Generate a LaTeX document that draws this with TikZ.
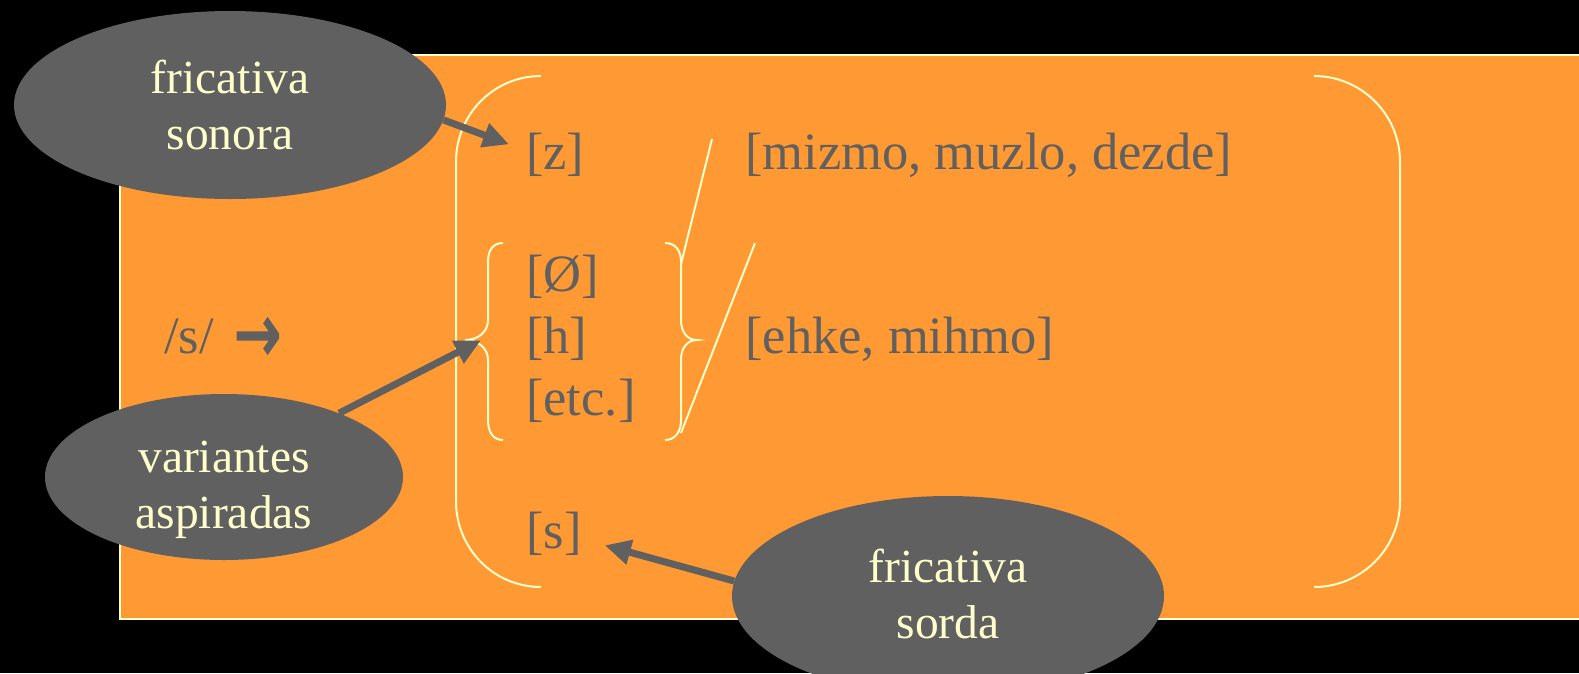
\documentclass[tikz,border=0pt]{standalone}
\usepackage{fontspec}
\setmainfont{Liberation Serif}
\newfontfamily\arrowfont[FakeBold=3]{DejaVu Sans}
\usetikzlibrary{shapes.geometric,arrows.meta,calc}
\definecolor{org}{HTML}{FF9933}
\definecolor{gry}{HTML}{606060}
\definecolor{ylw}{HTML}{FFFFCC}
\begin{document}
\begin{tikzpicture}[x=1pt,y=-1pt,
 txt/.style={inner sep=0pt, text=gry, font=\fontsize{52.5}{62.4}\selectfont, anchor=base west},
 bubble/.style={ellipse, fill=gry, draw=none, inner sep=0pt},
 btxt/.style={text=ylw, align=center, font=\fontsize{47.5}{56.4}\selectfont, inner sep=0pt},
 wline/.style={draw=ylw, line width=2pt},
 pointer/.style={draw=gry, line width=7pt, -{Triangle[length=26pt,width=24pt]}}
]
\clip (0,0) rectangle (1579,673);
\fill[black] (0,0) rectangle (1579,673);
\draw[fill=org, draw=ylw, line width=2pt] (120,55) rectangle (1600,619);
% big brackets
\draw[wline] (541,76) .. controls (494,76) and (456,114) .. (456,162) -- (456,501) .. controls (456,549) and (494,587) .. (541,587);
\draw[wline] (1314,76) .. controls (1361,76) and (1400,114) .. (1400,162) -- (1400,501) .. controls (1400,549) and (1361,587) .. (1314,587);
% small braces
\coordinate (lbt) at (465,340);
\draw[wline] (503,243) .. controls (493,243) and (488,250) .. (488,262) -- (488,320) .. controls (488,332) and (478,340) .. (lbt) .. controls (478,340) and (488,348) .. (488,360) -- (488,420) .. controls (488,432) and (493,440) .. (503,440);
\draw[wline] (665,243) .. controls (675,243) and (681,250) .. (681,262) -- (681,320) .. controls (681,332) and (687,340) .. (697,340) .. controls (687,340) and (681,348) .. (681,360) -- (681,420) .. controls (681,432) and (675,440) .. (665,440);
% slashes
\draw[wline] (712,139) -- (681,264);
\draw[wline] (755,243) -- (681,433);
% texts
\node[txt] (z) at (526,169) {[z]};
\node[txt] (mz) at (745,169) {[mizmo, muzlo, dezde]};
\node[txt] (o) at (526,291) {[Ø]};
\node[txt] (h) at (526,353) {[h]};
\node[txt] (etc) at (526,415) {[etc.]};
\node[txt] (eh) at (745,353) {[ehke, mihmo]};
\node[txt] (s0) at (164,353) {/s/};
\node[inner sep=0pt, text=gry, anchor=west] (arr) at (234,340) {\scalebox{1.0}[1.45]{\arrowfont\fontsize{56}{56}\selectfont →}};
\node[txt] (s) at (526,548) {[s]};
% bubbles
\node[bubble, minimum width=432pt, minimum height=188pt] (son) at (230,105) {};
\node[btxt] (sonl) at (230,105) {fricativa\\sonora};
\node[bubble, minimum width=358pt, minimum height=166pt] (var) at (224,477) {};
\node[btxt] (varl) at (224,490) {variantes\\aspiradas};
\node[bubble, minimum width=432pt, minimum height=200pt] (sor) at (948,596) {};
\node[btxt] (sorl) at (948,594) {fricativa\\sorda};
% pointers
\draw[pointer] (son.356) -- ($(z.west)+(-17,-10)$);
\draw[pointer] (var.29) -- ($(h.west)+(-45,2)$);
\draw[pointer] (sor.176) -- ($(s.east)+(23,12)$);
\end{tikzpicture}
\end{document}
